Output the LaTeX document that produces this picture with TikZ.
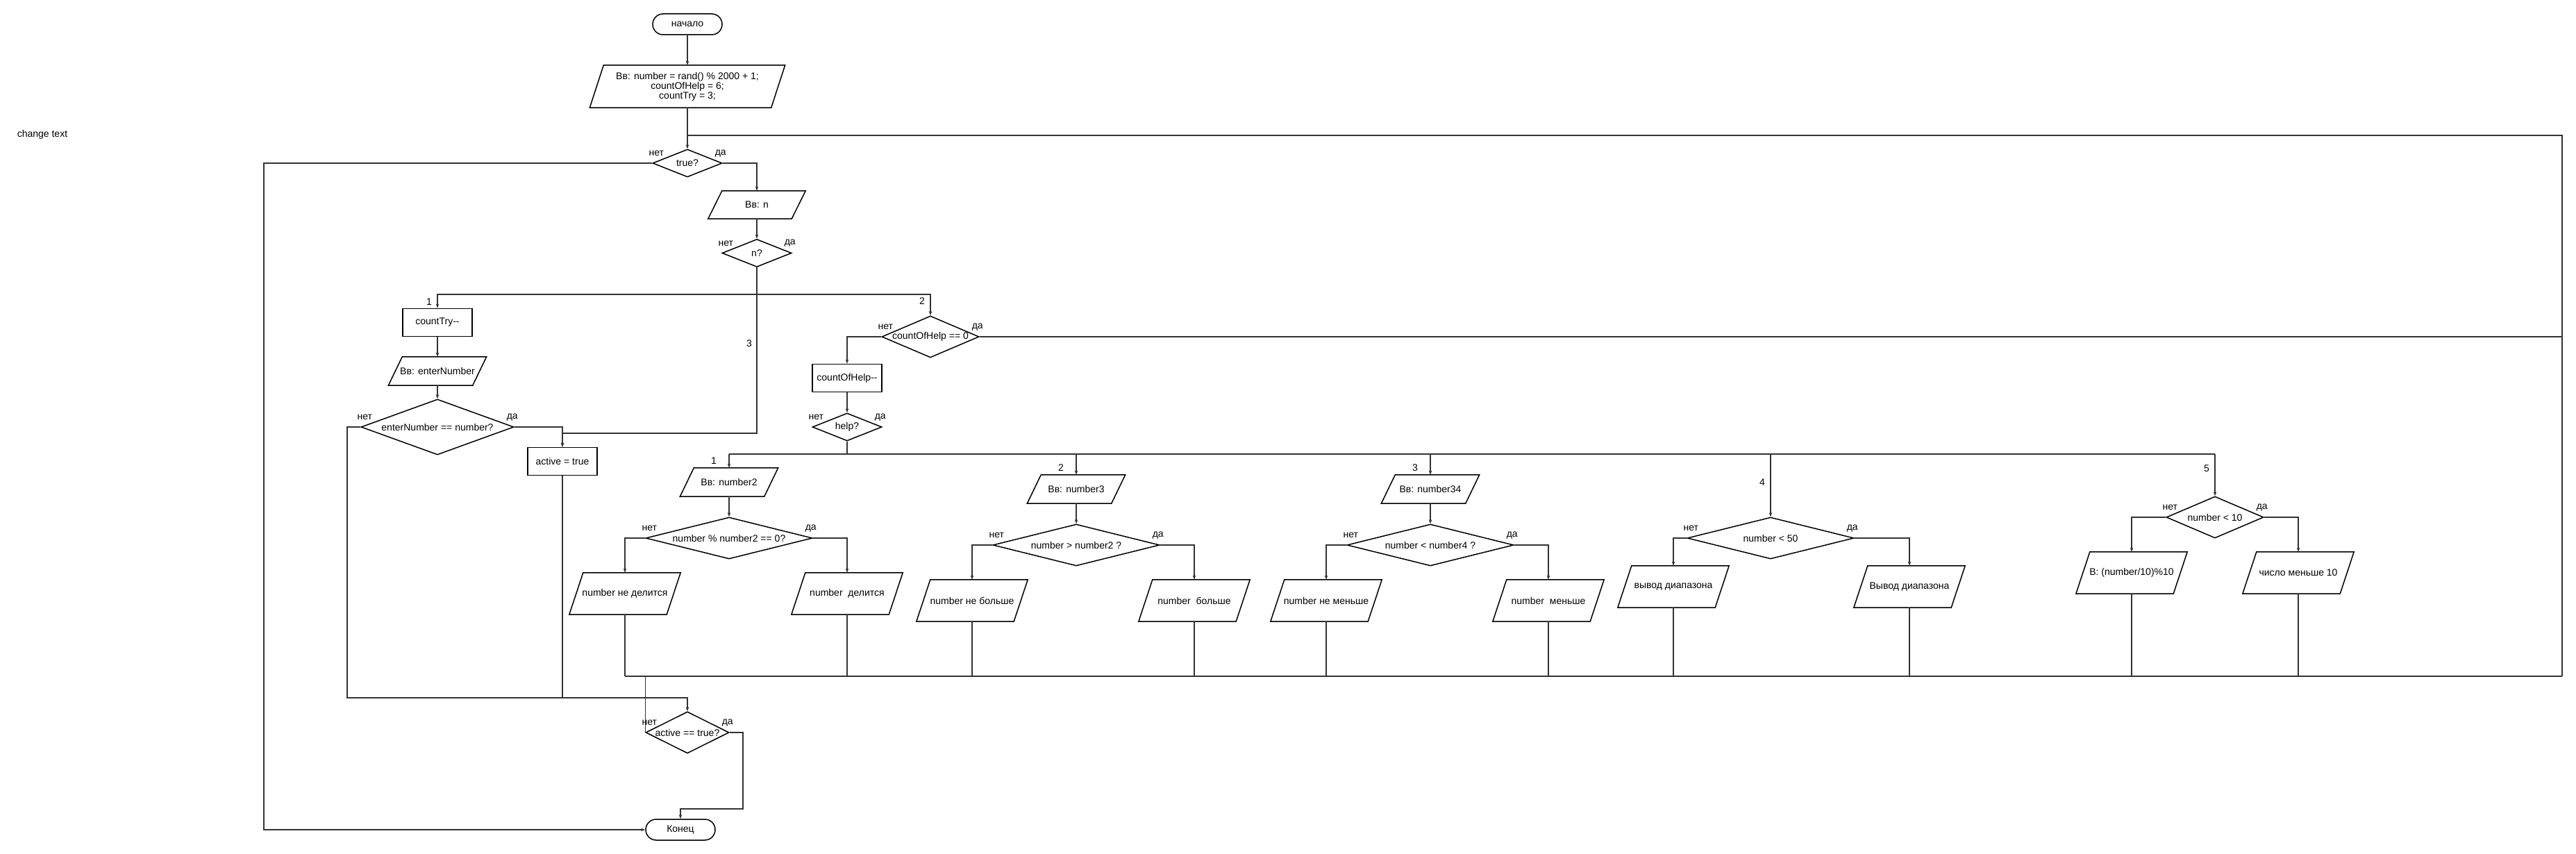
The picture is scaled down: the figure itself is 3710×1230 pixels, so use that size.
\documentclass[tikz,border=0pt]{standalone}
\usepackage{fontspec}
\setmainfont{Liberation Sans}
\usetikzlibrary{shapes.geometric,arrows.meta}

\tikzset{
 every node/.style={font=\fontsize{14}{14}\selectfont},
 shp/.style={draw=black, line width=1.5pt},
 term/.style={shp, rectangle, rounded corners=15pt, minimum width=100pt, minimum height=30pt, inner sep=0pt},
 proc/.style={shp, rectangle, minimum width=100pt, minimum height=40pt, inner sep=0pt},
 dec/.style={shp, diamond, inner sep=0pt},
 pbox/.style={rectangle, inner sep=0pt, align=center},
 conn/.style={draw=black!80, line width=1.1pt},
 arr/.style={conn, -{Stealth[length=6pt,width=4.5pt]}},
 bus/.style={conn, line width=1.6pt},
 lbl/.style={inner sep=0pt},
}

\newcommand{\pgm}[6]{%
  \node[pbox, minimum width=#4pt, minimum height=#5pt] (#1) at (#2,#3) {#6};
  \draw[shp] ([xshift=20pt]#1.north west) -- (#1.north east) -- ([xshift=-20pt]#1.south east) -- (#1.south west) -- cycle;
}
\newcommand{\dcs}[6]{%
  \node[dec, minimum width=#4pt, minimum height=#5pt] (#1) at (#2,#3) {};
  \node[lbl] (#1-t) at (#1.center) {#6};
  \node[lbl] (#1-no) at ([shift={(6,-14)}]#1.west) {нет};
  \node[lbl] (#1-yes) at ([shift={(-3,-14)}]#1.east) {да};
}

\begin{document}
\begin{tikzpicture}[x=1pt,y=-1pt]
\fill[white] (0,0) rectangle (3710,1230);
\useasboundingbox (0,0) rectangle (3710,1230);

\node[lbl] (note) at (61,194) {change text};
\node[term] (start) at (990,35) {начало};
\pgm{init}{990}{124.5}{281}{61}{Вв: number = rand() \% 2000 + 1;\\countOfHelp = 6;\\countTry = 3;}
\dcs{dtrue}{990}{235}{100}{40}{true?}
\pgm{inn}{1090}{295}{140}{40}{Вв: n}
\dcs{dn}{1090}{364.5}{100}{40}{n?}
\node[proc] (ctry) at (630,464.5) {countTry-{}-};
\pgm{inen}{630}{534.5}{141}{41}{Вв: enterNumber}
\dcs{den}{630}{615}{220}{80}{enterNumber == number?}
\node[proc] (act) at (810,664.5) {active = true};
\dcs{dh0}{1340}{485}{140}{60}{countOfHelp == 0}
\node[proc] (chelp) at (1220,544.5) {countOfHelp-{}-};
\dcs{dhelp}{1220}{615}{100}{40}{help?}
\pgm{in2}{1050}{694.5}{141}{41}{Вв: number2}
\dcs{ddiv}{1050}{775}{240}{60}{number \% number2 == 0?}
\pgm{ondiv}{900}{855}{160}{60}{number не делится}
\pgm{odiv}{1220}{855}{160}{60}{number\ \ делится}
\pgm{in3}{1550}{704.5}{141}{41}{Вв: number3}
\dcs{dgt}{1550}{785}{240}{60}{number > number2 ?}
\pgm{ongt}{1400}{865}{160}{60}{number не больше}
\pgm{ogt}{1720}{865}{160}{60}{number\ \ больше}
\pgm{in4}{2060}{704.5}{141}{41}{Вв: number34}
\dcs{dlt}{2060}{785}{240}{60}{number < number4 ?}
\pgm{onlt}{1910}{865}{160}{60}{number не меньше}
\pgm{olt}{2230}{865}{160}{60}{number\ \ меньше}
\dcs{d50}{2550}{775}{240}{60}{number < 50}
\pgm{or1}{2410}{845}{160}{60}{вывод диапазона}
\pgm{or2}{2750}{845}{160}{60}{Вывод диапазона}
\dcs{d10}{3190}{745}{140}{60}{number < 10}
\pgm{od1}{3070}{825}{160}{60}{В: (number/10)\%10}
\pgm{od2}{3310}{825}{160}{60}{число меньше 10}
\dcs{dact}{990}{1055}{120}{60}{active == true?}
\node[term] (end) at (980,1195) {Конец};

% branch numbers
\node[lbl] (n1) at (618,435) {1};
\node[lbl] (n2) at (1328,434) {2};
\node[lbl] (n3) at (1079,495) {3};
\node[lbl] (h1) at (1028,664) {1};
\node[lbl] (h2) at (1528,674) {2};
\node[lbl] (h3) at (2038,674) {3};
\node[lbl] (h4) at (2538,695) {4};
\node[lbl] (h5) at (3178,675) {5};

% coordinates
\coordinate (j1) at (990,195);
\coordinate (rt) at (3690,195);
\coordinate (rb) at (3690,974);
\coordinate (lp) at (380,235);
\coordinate (sw1) at (1090,424);
\coordinate (s3) at (1090,624);
\coordinate (lo) at (500,1005);
\coordinate (hb) at (1220,654);
\coordinate (bb) at (900,974);
\coordinate (ye) at (1070,1165);

% main flow
\draw[arr] (start) -- (init);
\draw[arr] (init) -- (dtrue);
\draw[bus] (j1) -- (rt) -- (rb);
\draw[arr] (dtrue.west) -- (lp) |- (end.west);
\draw[arr] (dtrue.east) -| (inn.north);
\draw[arr] (inn) -- (dn);
\draw[conn] (dn.south) -- (sw1);
\draw[arr] (sw1) -| (ctry.north);
\draw[arr] (sw1) -| (dh0.north);
\draw[arr] (sw1) -- (s3) -| (act.north);
\draw[arr] (ctry) -- (inen);
\draw[arr] (inen) -- (den);
\draw[arr] (den.west) -| (lo) -| (dact.north);
\draw[arr] (den.east) -| (act.north);
\draw[conn] (act.south) -- (act.south |- lo);
\draw[bus] (dh0.east) -- (dh0.east -| rt);
\draw[arr] (dh0.west) -| (chelp.north);
\draw[arr] (chelp) -- (dhelp);
\draw[conn] (dhelp.south) -- (hb);
\draw[bus] (in2.north |- hb) -- (d10.north |- hb);
\draw[arr] (in2.north |- hb) -- (in2.north);
\draw[arr] (in3.north |- hb) -- (in3.north);
\draw[arr] (in4.north |- hb) -- (in4.north);
\draw[arr] (d50.north |- hb) -- (d50.north);
\draw[arr] (d10.north |- hb) -- (d10.north);

% help branches
\draw[arr] (in2) -- (ddiv);
\draw[arr] (ddiv.west) -| (ondiv.north);
\draw[arr] (ddiv.east) -| (odiv.north);
\draw[arr] (in3) -- (dgt);
\draw[arr] (dgt.west) -| (ongt.north);
\draw[arr] (dgt.east) -| (ogt.north);
\draw[arr] (in4) -- (dlt);
\draw[arr] (dlt.west) -| (onlt.north);
\draw[arr] (dlt.east) -| (olt.north);
\draw[arr] (d50.west) -| (or1.north);
\draw[arr] (d50.east) -| (or2.north);
\draw[arr] (d10.west) -| (od1.north);
\draw[arr] (d10.east) -| (od2.north);

% returns to the lower bus
\foreach \o in {ondiv,odiv,ongt,ogt,onlt,olt,or1,or2,od1,od2}{
  \draw[conn] (\o.south) -- (\o.south |- bb);
}
\draw[bus] (bb) -- (rb);
\draw[conn] (dact.west |- bb) -- (dact.west);
\draw[arr] (dact.east) -| (ye) -| (end.north);
\end{tikzpicture}
\end{document}
